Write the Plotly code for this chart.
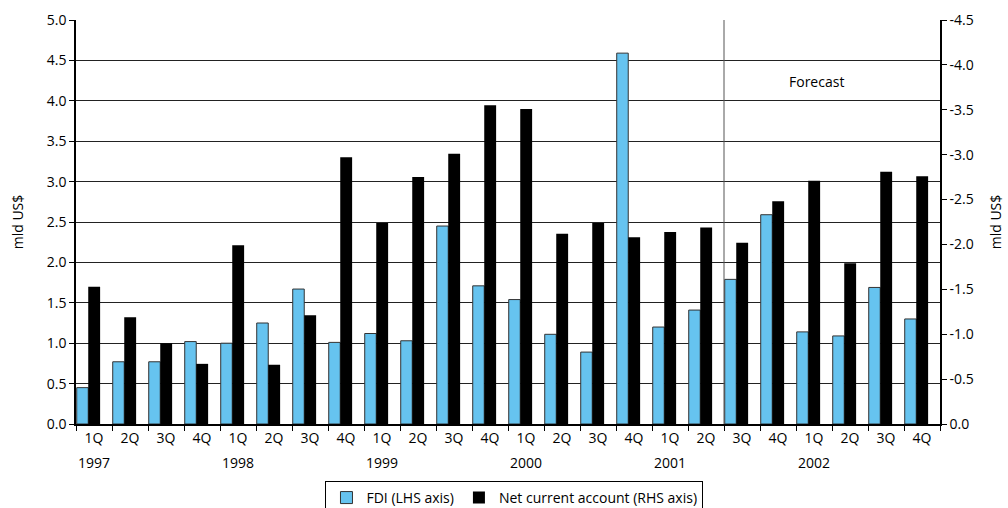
import plotly.graph_objects as go

# Quarterly periods, 1Q 1997 - 4Q 2002
quarters = ["1Q", "2Q", "3Q", "4Q"] * 6
years = ["1997", "1998", "1999", "2000", "2001", "2002"]

# FDI, bn US$ (left axis)
fdi = [0.45, 0.77, 0.77, 1.02, 1.00, 1.25, 1.67, 1.01,
       1.12, 1.03, 2.45, 1.71, 1.54, 1.11, 0.89, 4.59,
       1.20, 1.41, 1.79, 2.59, 1.14, 1.09, 1.69, 1.30]

# Net current account, bn US$ (right axis, negative values)
net_ca = [-1.53, -1.19, -0.90, -0.67, -1.99, -0.66, -1.21, -2.97,
          -2.24, -2.75, -3.01, -3.55, -3.51, -2.12, -2.24, -2.08,
          -2.14, -2.19, -2.02, -2.48, -2.71, -1.79, -2.81, -2.76]

lhs_ticks = [0.0, 0.5, 1.0, 1.5, 2.0, 2.5, 3.0, 3.5, 4.0, 4.5, 5.0]
rhs_ticks = [0.0, -0.5, -1.0, -1.5, -2.0, -2.5, -3.0, -3.5, -4.0, -4.5]
rhs_labels = ["0.0", "-0.5", "-1.0", "-1.5", "-2.0", "-2.5", "-3.0", "-3.5", "-4.0", "-4.5"]

forecast_label = "Forecast"
forecast_start = 18  # 3Q 2001

x = list(range(len(quarters)))

FONT = "Open Sans"
fig = go.Figure()

fig.add_trace(go.Bar(
    x=x, y=fdi, name="FDI (LHS axis)",
    marker=dict(color="#66C3EF", line=dict(color="#333333", width=1)),
    offset=-0.48, width=0.32, yaxis="y",
))
fig.add_trace(go.Bar(
    x=x, y=net_ca, name="Net current account (RHS axis)",
    marker=dict(color="#000000", line=dict(color="#000000", width=0)),
    offset=-0.16, width=0.33, yaxis="y2",
))

# Forecast divider and label
fig.add_shape(type="line", xref="x", yref="paper",
              x0=forecast_start - 0.5, x1=forecast_start - 0.5, y0=0, y1=1,
              line=dict(color="#555555", width=1))
fig.add_annotation(x=20.07, y=4.24, xref="x", yref="y", text=forecast_label,
                   showarrow=False, font=dict(family=FONT, size=14, color="#000"))

# Year labels under the first quarter of each year
for i, yr in enumerate(years):
    fig.add_annotation(x=x[i * 4], y=0, xref="x", yref="paper", text=yr,
                       showarrow=False, yanchor="middle", yshift=-38,
                       font=dict(family=FONT, size=14, color="#000"))

fig.update_layout(
    template="none",
    width=1008, height=508,
    margin=dict(l=76, r=68, t=20, b=84, autoexpand=False),
    paper_bgcolor="white", plot_bgcolor="white",
    font=dict(family=FONT, size=14, color="#000"),
    barmode="overlay",
    showlegend=True,
    legend=dict(orientation="h", x=0.5075, xanchor="center", y=-0.141, yanchor="top",
                bordercolor="#000", borderwidth=1, bgcolor="white",
                font=dict(family=FONT, size=14), tracegroupgap=0),
    xaxis=dict(
        range=[-0.5, 23.5], tickmode="array", tickvals=x, ticktext=quarters,
        ticks="", showgrid=False, zeroline=False, automargin=False,
        showline=True, linecolor="#000", linewidth=1.5,
        minor=dict(tickmode="linear", tick0=-0.5, dtick=1, ticks="outside",
                   ticklen=5, tickcolor="#000", tickwidth=1, showgrid=False),
        tickfont=dict(family=FONT, size=14),
    ),
    yaxis=dict(
        range=[0, 5], tickmode="array", tickvals=lhs_ticks, tickformat=".1f",
        ticks="outside", ticklen=5, tickcolor="#000", automargin=False,
        showgrid=True, gridcolor="#222", gridwidth=1, zeroline=False,
        showline=True, linecolor="#000", linewidth=1.5,
        title=dict(text="mld US$", standoff=20, font=dict(family=FONT, size=14)),
        tickfont=dict(family=FONT, size=14),
    ),
    yaxis2=dict(
        range=[0, -4.5], overlaying="y", side="right", automargin=False,
        tickmode="array", tickvals=rhs_ticks, ticktext=rhs_labels,
        ticks="outside", ticklen=5, tickcolor="#000",
        showgrid=False, zeroline=False,
        showline=True, linecolor="#000", linewidth=1.5,
        title=dict(text="mld US$", standoff=18, font=dict(family=FONT, size=14)),
        tickfont=dict(family=FONT, size=14),
    ),
)

fig.write_html("out.html")
